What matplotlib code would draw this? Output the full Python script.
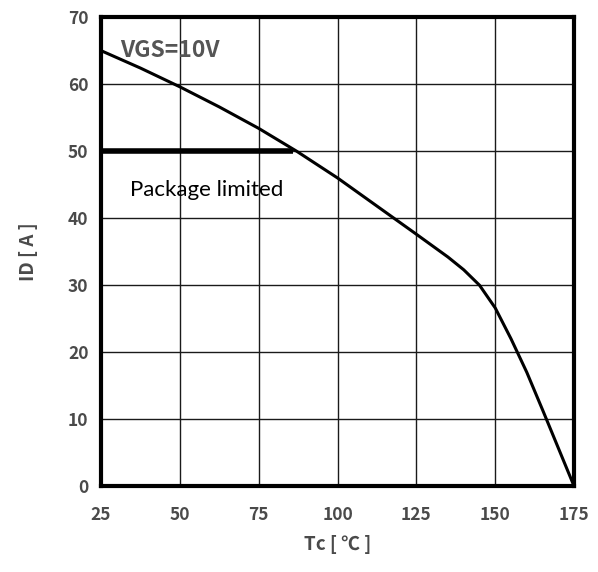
import matplotlib.pyplot as plt

# drain current derating vs case temperature
tc = [25, 37.5, 50, 62.5, 75, 87, 100, 112.5, 125, 135, 140, 145, 150, 155, 160, 165, 170, 175]
id_a = [65, 62.4, 59.6, 56.6, 53.4, 50, 46, 41.8, 37.6, 34.2, 32.3, 30, 26.6, 22, 17, 11.4, 5.7, 0]

# package limit line
pkg_x = [25, 86]
pkg_y = [50, 50]

x_ticks = [25, 50, 75, 100, 125, 150, 175]
y_ticks = [0, 10, 20, 30, 40, 50, 60, 70]

plt.rcParams['font.family'] = ['Noto Sans CJK SC', 'DejaVu Sans']
lab_col = '#4a4a4a'

fig = plt.figure(figsize=(5.98, 5.72), dpi=100)
ax = fig.add_axes([0.169, 0.150, 0.791, 0.820])

ax.plot(tc, id_a, color='black', lw=2.2, solid_joinstyle='round', zorder=3)
ax.plot(pkg_x, pkg_y, color='black', lw=4, solid_capstyle='butt', zorder=3)

ax.set_xlim(25, 175)
ax.set_ylim(0, 70)
ax.set_xticks(x_ticks)
ax.set_yticks(y_ticks)
ax.grid(True, color='#1a1a1a', lw=1.0)
ax.tick_params(length=0, labelsize=12.5, labelcolor=lab_col)
ax.tick_params(axis='x', pad=14)
ax.tick_params(axis='y', pad=9)
for lbl in ax.get_xticklabels() + ax.get_yticklabels():
    lbl.set_fontweight('bold')
for s in ax.spines.values():
    s.set_linewidth(3)
    s.set_color('black')

ax.text(31.0, 65, 'VGS=10V', fontsize=16.5, fontweight='bold', color='#555555',
        va='center', ha='left')
ax.text(34.2, 44.2, 'Package limited', fontsize=16, color='black',
        va='center', ha='left', family=['Lato', 'DejaVu Sans'])

ax.set_xlabel('Tc [ \u2103 ]', fontsize=13.5, fontweight='bold', color=lab_col,
              labelpad=8)
ax.set_ylabel('ID [ A ]', fontsize=13.5, fontweight='bold', color=lab_col, labelpad=22)

fig.savefig('out.png', dpi=100)
